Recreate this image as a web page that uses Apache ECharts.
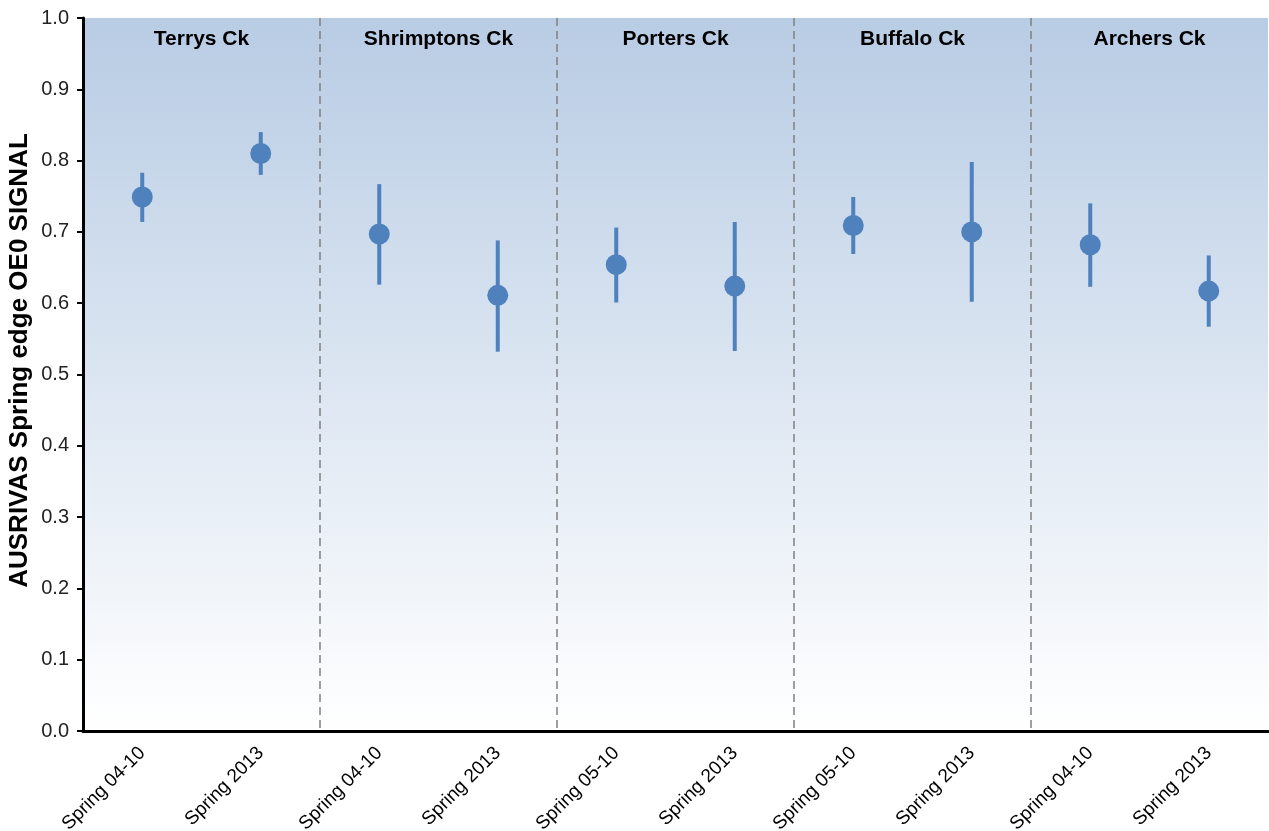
<!DOCTYPE html>
<html>
<head>
<meta charset="utf-8">
<script src="https://cdn.jsdelivr.net/npm/echarts@6/dist/echarts.min.js"></script>
<style>html,body{margin:0;padding:0;background:#fff;}#c{width:1269px;height:831px;}</style>
</head>
<body>
<div id="c"></div>
<script>
var categories = ['Spring 04-10','Spring 2013','Spring 04-10','Spring 2013','Spring 05-10','Spring 2013','Spring 05-10','Spring 2013','Spring 04-10','Spring 2013'];
var sites = ['Terrys Ck','Shrimptons Ck','Porters Ck','Buffalo Ck','Archers Ck'];
var means = [0.749,0.810,0.697,0.611,0.654,0.624,0.709,0.700,0.682,0.617];
var lower = [0.714,0.780,0.626,0.532,0.601,0.533,0.669,0.602,0.623,0.567];
var upper = [0.783,0.840,0.767,0.688,0.706,0.714,0.749,0.798,0.740,0.667];
var yTicks = [0,0.1,0.2,0.3,0.4,0.5,0.6,0.7,0.8,0.9,1.0];

var chart = echarts.init(document.getElementById('c'));
var errData = means.map(function(m,i){ return [i, lower[i], upper[i]]; });
var siteData = sites.map(function(s,i){ return [i*2, i*2+1, s]; });
var font = 'Liberation Sans, Arial, sans-serif';
var blue = '#4f81bd';

chart.setOption({
  animation: false,
  grid: {
    left: 83, right: 1, top: 18, bottom: 100,
    containLabel: false,
    outerBoundsMode: 'none',
    show: true, borderWidth: 0,
    backgroundColor: new echarts.graphic.LinearGradient(0,0,0,1,[
      {offset:0,color:'#b8cce4'},{offset:1,color:'#ffffff'}
    ])
  },
  xAxis: {
    type: 'category',
    data: categories,
    boundaryGap: true,
    axisLine: {show: true, lineStyle: {color: '#000', width: 3}},
    axisTick: {show: false},
    axisLabel: {rotate: 45, fontSize: 19, color: '#000', fontFamily: font, margin: 19, interval: 0},
    splitLine: {show: false}
  },
  yAxis: {
    type: 'value',
    min: yTicks[0], max: yTicks[yTicks.length-1], interval: 0.1,
    name: 'AUSRIVAS Spring edge OE0 SIGNAL',
    nameLocation: 'middle',
    nameGap: 50,
    nameMoveOverlap: false,
    nameTextStyle: {fontSize: 26, fontWeight: 'bold', color: '#000', fontFamily: font, padding: [0, 0, 0, 28]},
    axisLine: {show: true, lineStyle: {color: '#000', width: 3}},
    axisTick: {show: true, inside: false, length: 6, lineStyle: {color: '#000', width: 2}},
    axisLabel: {fontSize: 20, color: '#222', fontFamily: font, margin: 14,
      formatter: function(v){ return v.toFixed(1); }},
    splitLine: {show: false}
  },
  series: [
    {
      type: 'custom',
      data: siteData,
      z: 1,
      silent: true,
      renderItem: function(params, api){
        var a = api.coord([api.value(0), 1]);
        var b = api.coord([api.value(1), 1]);
        var bottom = api.coord([api.value(1), 0]);
        var step = b[0] - a[0];
        var children = [{
          type: 'text',
          style: {
            text: api.value(2), x: (a[0]+b[0])/2, y: a[1] + 21,
            align: 'center', verticalAlign: 'middle',
            font: 'bold 21px ' + font, fill: '#000'
          }
        }];
        if (params.dataIndex < sites.length - 1) {
          var xs = b[0] + step/2;
          children.push({
            type: 'line',
            shape: {x1: xs, y1: a[1], x2: xs, y2: bottom[1]},
            style: {stroke: '#808080', lineWidth: 1.5, lineDash: [8, 5]}
          });
        }
        return {type: 'group', children: children};
      }
    },
    {
      type: 'custom',
      data: errData,
      z: 2,
      renderItem: function(params, api){
        var lo = api.coord([api.value(0), api.value(1)]);
        var hi = api.coord([api.value(0), api.value(2)]);
        return {
          type: 'line',
          shape: {x1: lo[0], y1: lo[1], x2: hi[0], y2: hi[1]},
          style: {stroke: blue, lineWidth: 4}
        };
      }
    },
    {
      type: 'scatter',
      data: means,
      z: 3,
      symbol: 'circle',
      symbolSize: 21,
      itemStyle: {color: blue, opacity: 1}
    }
  ]
});
</script>
</body>
</html>
